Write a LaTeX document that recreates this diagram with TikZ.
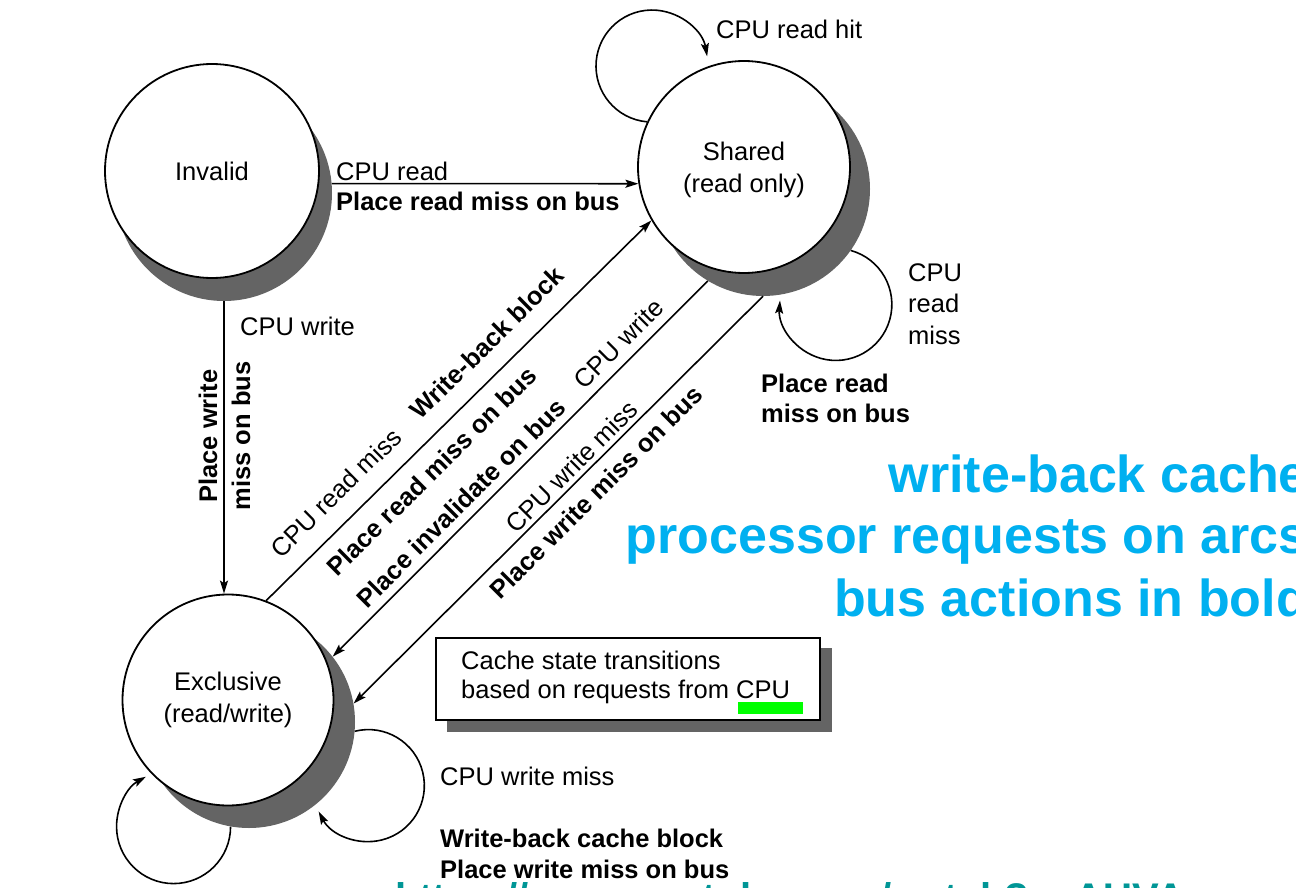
\documentclass[tikz,border=0pt]{standalone}
\usepackage{fontspec}
\setmainfont{Liberation Sans}
\usetikzlibrary{arrows.meta}
\definecolor{shadowgray}{RGB}{100,100,100}
\definecolor{titleblue}{RGB}{0,176,240}
\definecolor{urlteal}{RGB}{0,150,150}
\definecolor{hlgreen}{RGB}{0,255,0}
\newcommand\lblfont{\fontsize{25.5}{31}\selectfont}
\begin{document}
\begin{tikzpicture}[x=1pt,y=1pt,
  lbl/.style={font=\lblfont, inner sep=0pt, text height=18pt, text depth=0pt},
  blbl/.style={lbl, font=\lblfont\bfseries},
  stnode/.style={circle, draw=black, line width=1.8pt, fill=white, minimum size=#1, inner sep=0pt, align=center, font=\fontsize{25.5}{32}\selectfont, text height=18pt, text depth=0pt},
  stshadow/.style={circle, fill=shadowgray, minimum size=#1, inner sep=0pt},
  arr/.style={line width=1.6pt, -{Stealth[length=13pt,width=8pt,inset=2.5pt]}},
  title/.style={font=\fontsize{52}{62}\selectfont\bfseries, text=titleblue, anchor=base east, inner sep=0pt},
]
\useasboundingbox (0,0) rectangle (1296,-888);
\clip (0,0) rectangle (1296,-888);
\fill[white] (0,0) rectangle (1296,-888);

% shadows
\node[stshadow=216] (invsh) at (224,-193) {};
\node[stshadow=214] (sharedsh) at (763,-189) {};
\node[stshadow=212] (exclsh) at (249,-722) {};
% states
\node[stnode=214] (inv) at (212,-171) {Invalid};
\node[stnode=212, text height=50pt] (shared) at (744,-167) {Shared\\(read only)};
\node[stnode=211, text height=50pt, text depth=6pt] (excl) at (228,-700) {Exclusive\\(read/write)};

% transitions
\draw[arr] (invsh.5) -- (shared.189);
\draw[arr] (invsh.south) -- (invsh.south |- excl.north);
\draw[arr] (excl.69) -- (shared.210);
\draw[arr] (sharedsh.239) -- (exclsh.38);
\draw[arr] (sharedsh.south) -- (exclsh.10);
% self loops
\draw[arr] (shared.155) arc[start angle=265, end angle=10, radius=56];
\draw[arr] (sharedsh.-35) arc[start angle=74.5, end angle=-184, radius=56];
\draw[arr] (exclsh.-5) arc[start angle=104, end angle=-152.5, radius=56];
\draw[arr] (exclsh.-100) arc[start angle=0, end angle=-241, radius=57];

% labels
\node[lbl, anchor=west] (l1) at (336,-171) {CPU read};
\node[blbl, anchor=west] (l2) at (336,-201) {Place read miss on bus};
\node[lbl, anchor=west] (l3) at (240,-326) {CPU write};
\node[blbl, rotate=90, align=center, font=\fontsize{25.5}{33}\selectfont\bfseries, text height=51pt] (l4) at (224.5,-436) {Place write\\miss on bus};

\node[lbl, rotate=44.7] (a1) at (336,-493) {CPU read miss};
\node[blbl, rotate=44.7] (a2) at (487,-343) {Write-back block};
\node[blbl, rotate=44.7] (a3) at (432,-471) {Place read miss on bus};
\node[blbl, rotate=45] (b1) at (461,-503) {Place invalidate on bus};
\node[lbl, rotate=45] (b2) at (619,-344) {CPU write};
\node[lbl, rotate=45] (c1) at (572,-467) {CPU write miss};
\node[blbl, rotate=45] (c2) at (596,-492) {Place write miss on bus};

\node[lbl, anchor=west] (rh) at (716,-30) {CPU read hit};
\node[lbl, anchor=west, align=left, font=\fontsize{25.5}{31.5}\selectfont, text height=81pt] (rm) at (908,-303.5) {CPU\\read\\miss};
\node[blbl, anchor=west, align=left, font=\fontsize{25.5}{30}\selectfont\bfseries, text height=48pt] (rp) at (761,-398) {Place read\\miss on bus};

\node[lbl, anchor=west] (wm) at (440,-776) {CPU write miss};
\node[blbl, anchor=west, align=left, font=\fontsize{25.5}{31}\selectfont\bfseries, text height=49pt] (wb) at (440,-853.5) {Write-back cache block\\Place write miss on bus};

% legend box
\node[fill=shadowgray, minimum width=385, minimum height=84, anchor=north west, inner sep=0pt] (boxsh) at (447,-648) {};
\node[draw=black, line width=1.8pt, fill=white, minimum width=384, minimum height=82, anchor=north west, inner sep=0pt] (box) at (435,-637) {};
\node[lbl, anchor=west, align=left, font=\fontsize{25.5}{29}\selectfont, text height=47pt] (bt) at (461,-675) {Cache state transitions\\based on requests from CPU};
\fill[hlgreen] (738,-702) rectangle (803,-714);

% blue annotation
\node[title] (t1) at (1308,-492) {write-back cache};
\node[title] (t2) at (1308,-553) {processor requests on arcs};
\node[title] (t3) at (1308,-616) {bus actions in bold};

% url (cut off)
\node[font=\fontsize{40}{48}\selectfont\bfseries, text=urlteal, anchor=base west, inner sep=0pt] (url) at (395,-911) {https://www.youtube.com/watch?v=AUVA};
\end{tikzpicture}
\end{document}
